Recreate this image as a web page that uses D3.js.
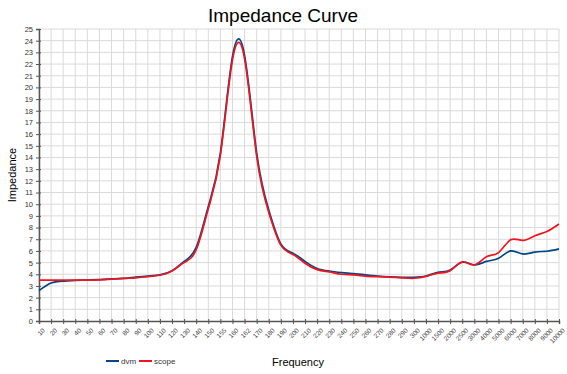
<!DOCTYPE html>
<html>
<head>
<style>
  body { margin: 0; background: #fff; }
  svg { font-family: "Liberation Sans", Arial, sans-serif; }
</style>
</head>
<body>
<script src="https://cdn.jsdelivr.net/npm/d3@7"></script>
<script>
var freqs = ["10","20","30","40","50","60","70","80","90","100","110","120","130","140","150","155",
             "160","162","170","180","190","200","210","220","230","240","250","260","270","280","290","300",
             "1000","1500","2000","2500","3000","4000","5000","6000","7000","8000","9000","10000"];

var dvm = [2.6, 3.25, 3.42, 3.48, 3.5, 3.55, 3.6, 3.65, 3.75, 3.85, 3.95, 4.3, 5.1, 6.3, 9.8, 14.4,
           22.65, 22.75, 14.4, 9.5, 6.6, 5.8, 5.1, 4.5, 4.28, 4.14, 4.05, 3.95, 3.85, 3.78, 3.74, 3.74,
           3.85, 4.17, 4.37, 5.03, 4.8, 5.1, 5.37, 6.0, 5.74, 5.9, 5.97, 6.17];

var scope = [3.5, 3.5, 3.5, 3.5, 3.5, 3.52, 3.58, 3.65, 3.7, 3.8, 3.92, 4.28, 5.0, 6.1, 9.6, 14.2,
             22.35, 22.45, 14.1, 9.3, 6.5, 5.7, 4.94, 4.4, 4.2, 4.0, 3.95, 3.85, 3.8, 3.76, 3.7, 3.66,
             3.82, 4.1, 4.3, 5.06, 4.8, 5.5, 5.86, 6.95, 6.9, 7.3, 7.66, 8.3];

var series = [
    { name: "dvm", values: dvm, color: "#004586" },
    { name: "scope", values: scope, color: "#f0141e" }
];

var width = 567, height = 374;
var margin = { left: 39, right: 8, top: 29, bottom: 53 };

var svg = d3.select("body").append("svg")
    .attr("width", width)
    .attr("height", height);

var x = d3.scalePoint()
    .domain(freqs)
    .range([margin.left, width - margin.right]);

var y = d3.scaleLinear()
    .domain([0, 25])
    .range([height - margin.bottom, margin.top]);

// grid
svg.append("g").selectAll("line.v")
    .data(freqs)
    .enter().append("line")
    .attr("x1", function(d) { return x(d); })
    .attr("x2", function(d) { return x(d); })
    .attr("y1", y(0))
    .attr("y2", y(25))
    .attr("stroke", "#dadada")
    .attr("stroke-width", 1);

svg.append("g").selectAll("line.h")
    .data(d3.range(1, 26))
    .enter().append("line")
    .attr("x1", x.range()[0])
    .attr("x2", x.range()[1])
    .attr("y1", function(d) { return y(d); })
    .attr("y2", function(d) { return y(d); })
    .attr("stroke", "#dadada")
    .attr("stroke-width", 1);

// axes
var yAxis = svg.append("g")
    .attr("transform", "translate(" + margin.left + ",0)")
    .call(d3.axisLeft(y).ticks(25).tickSize(3).tickPadding(3));
yAxis.selectAll(".tick line").attr("x2", -3).attr("x1", 2).attr("stroke", "#555");
yAxis.select(".domain").attr("stroke", "#555").attr("stroke-width", 1.5);
yAxis.selectAll("text").attr("font-size", 7.5).attr("fill", "#333")
    .attr("font-family", "Liberation Sans, Arial, sans-serif");

var xAxis = svg.append("g")
    .attr("transform", "translate(0," + y(0) + ")")
    .call(d3.axisBottom(x).tickSize(3).tickPadding(2));
xAxis.selectAll(".tick line").attr("y1", -2).attr("stroke", "#555");
xAxis.select(".domain").attr("stroke", "#555").attr("stroke-width", 1.5);
xAxis.selectAll("text")
    .attr("font-size", 6.5)
    .attr("fill", "#444")
    .attr("font-family", "Liberation Sans, Arial, sans-serif")
    .attr("text-anchor", "end")
    .attr("dy", "0.3em")
    .attr("transform", "translate(1,5) rotate(-45)");

// lines
var line = d3.line()
    .x(function(d, i) { return x(freqs[i]); })
    .y(function(d) { return y(d); })
    .curve(d3.curveNatural);

svg.selectAll("path.series")
    .data(series)
    .enter().append("path")
    .attr("class", "series")
    .attr("d", function(s) { return line(s.values); })
    .attr("fill", "none")
    .attr("stroke", function(s) { return s.color; })
    .attr("stroke-width", 1.7);

// titles
svg.append("text")
    .attr("x", 283).attr("y", 22)
    .attr("text-anchor", "middle")
    .attr("font-size", 19)
    .text("Impedance Curve");

svg.append("text")
    .attr("transform", "translate(16,175) rotate(-90)")
    .attr("text-anchor", "middle")
    .attr("font-size", 11)
    .text("Impedance");

svg.append("text")
    .attr("x", 298).attr("y", 366)
    .attr("text-anchor", "middle")
    .attr("font-size", 11)
    .text("Frequency");

// legend
var legend = svg.append("g");
var lx = [106, 139];
series.forEach(function(s, i) {
    legend.append("line")
        .attr("x1", lx[i]).attr("x2", lx[i] + 13)
        .attr("y1", 361).attr("y2", 361)
        .attr("stroke", s.color).attr("stroke-width", 2);
    legend.append("text")
        .attr("x", lx[i] + 15).attr("y", 364)
        .attr("font-size", 8)
        .attr("fill", "#333")
        .text(s.name);
});
</script>
</body>
</html>
